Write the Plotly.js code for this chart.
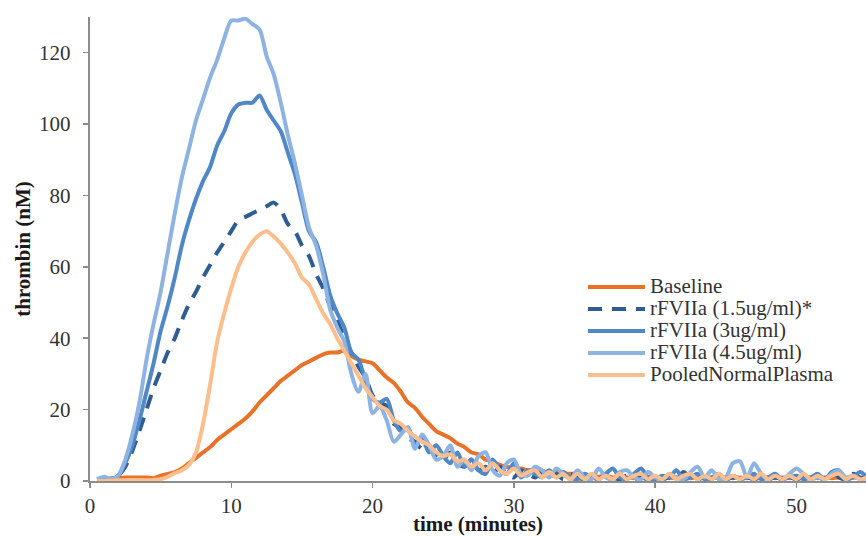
<!DOCTYPE html>
<html>
<head>
<meta charset="utf-8">
<script src="https://cdn.plot.ly/plotly-3.0.1.min.js"></script>
<style>
html,body{margin:0;padding:0;background:#fff;}
#chart{width:866px;height:536px;}
</style>
</head>
<body>
<div id="chart"></div>
<script>
var time = [0.5,1,1.5,2,2.5,3,3.5,4,4.5,5,
5.5,6,6.5,7,7.5,8,8.5,9,9.5,10,
10.5,11,11.5,12,12.5,13,13.5,14,14.5,15,
15.5,16,16.5,17,17.5,18,18.5,19,19.5,20,
20.5,21,21.5,22,22.5,23,23.5,24,24.5,25,
25.5,26,26.5,27,27.5,28,28.5,29,29.5,30,
30.5,31,31.5,32,32.5,33,33.5,34,34.5,35,
35.5,36,36.5,37,37.5,38,38.5,39,39.5,40,
40.5,41,41.5,42,42.5,43,43.5,44,44.5,45,
45.5,46,46.5,47,47.5,48,48.5,49,49.5,50,
50.5,51,51.5,52,52.5,53,53.5,54,54.5,55];

var seriesNames = ["Baseline","rFVIIa (1.5ug/ml)*","rFVIIa (3ug/ml)","rFVIIa (4.5ug/ml)","PooledNormalPlasma"];

var baseline = [0.3,0.5,0.8,0.8,1,1,1,1,0.8,1.5,
2,2.5,3.5,5,6.5,8,9.5,11.5,13,14.5,
16,17.5,19.5,22,24,26,28,29.5,31,32.5,
33.5,34.5,35.5,36,36,36.5,35,34,33.5,33,
31,29,27.5,25,22,20.5,18,16,14,13,
12,10.5,9.5,8,7.5,6,5.5,4.5,4,3.5,
3.5,3,3.2,2.8,2.5,2.5,2.2,2,2,1.5,
1.5,1.2,1.5,1,1.2,1,0.8,1,1.2,0.8,
1,0.8,1,1.2,0.8,1,0.8,1,0.8,1,
0.8,1,0.8,1,0.8,1,0.8,1,0.8,1,
0.8,1,0.8,1,0.8,1,0.8,1,0.8,1];

var rf15 = [0.3,0.3,0.5,1.5,4,8.5,14,20,26,31,
36,40,45,49.5,53,57,60.5,64,67,70,
73,74,75,76,77,78,76,72,70,66,
63,58,54,49,45,40,36,32,29,24,
22,21,16,15,12,11,9,10,7,6,
8,5,4,6,3,4,2,4,2,1,
3,2,1,2.5,1,2,0.5,2,1,0.5,
1.5,0.5,2,1,0.5,1.5,0.5,1,0.5,1.5,
0.5,1,0.5,2.5,1,0.5,1,0.5,1.5,0.5,
1,0.5,1,0.5,1,0.5,1,0.5,1,0.5,
1,0.5,1,0.5,3,1,0.5,2,1,0.5];

var rf3 = [0.3,0.5,0.5,1.5,5,10,17,25,33,42,
49,57,66,73,79,84,88,94,98,103,
105.5,106,106,108,104,101,98,92,86,78,
70,67,60,52,47,43,36,34,28,23,
22,23,17,14,15,10,12,8,10,7,
5,8,4,6,3,2,6,3,2,5,
1,3,2,1,3,1,2.5,1,0.5,2,
1,0.5,2,3.5,1,0.5,2,3.5,1,0.5,
1.5,1,3,0.5,1,2,0.5,1,2,0.5,
1.5,0.5,1,2,0.5,1,2,0.5,1,1.5,
0.5,1,2,0.5,2.5,3,0.5,1,2.5,1];

var rf45 = [0.5,1.2,0.5,1.5,6,13,22,34,44,53,
64,75,85,93,101,107,113,118,124,129,
129,129.5,128,126.5,119,114,106,97,89,80,
71,66,58,48,43,39,30,25,30,19,
21,17,11,13,15,9,13,10,6,7,
10,4,6,3,7,8,3,1.5,5,6,
2,1.5,4,3,1,3.5,2,0.5,3,1,
0.5,3.5,1,0.5,2.5,3,1,0.5,2.5,1,
0.5,2,1,0.5,2.5,4,1,3,0.5,1,
5,5.5,1,5,2,0.5,1.5,0.5,2,3.5,
2,0.5,1,0.5,2,3,1,1.5,0.5,1];

var pnp = [0,0,0.1,0.2,0.2,0.3,0.3,0.2,0.3,0.5,
1.2,2.2,3,4.5,8,16,27,39,47,54,
60,64,67,69,70,68.5,66.5,64,61,57,
55,51,47,44,40,36.5,33,29.5,26,23.5,
21,20,17,16,14,12.5,11,10,8,7,
7.5,5.5,6,4,5,3,5,3,2,3.5,
1.5,2.5,3,1,2.5,1,2,0.5,2,0.5,
2,0.5,1.5,0.5,2,0.5,1.5,2,0.5,1.5,
0.5,2,0.5,1.5,2,0.5,1.5,0.5,2,0.5,
1.5,0.5,1.5,0.5,2,0.5,1.5,0.5,1.5,0.5,
2,0.5,1.5,0.5,1.5,2,0.5,1.5,0.5,1];

var xTicks = [0,10,20,30,40,50];
var yTicks = [0,20,40,60,80,100,120];

var colors = ["#E8722A","#2F5D93","#4F87C7","#8DB3E2","#FBBE8C"];
var dashes = ["solid","14px,10px","solid","solid","solid"];
var values = [baseline, rf15, rf3, rf45, pnp];

var FONT = "'Liberation Serif','Times New Roman',serif";
var traces = values.map(function(v, i){
  return {
    type: 'scatter', mode: 'lines', x: time, y: v,
    name: '<span style="font-size:21px">' + seriesNames[i] + '</span>',
    line: {color: colors[i], width: 4, dash: dashes[i], shape: 'spline', smoothing: 0.8},
    cliponaxis: false,
    hoverinfo: 'skip'
  };
});

var axisCommon = {
  showgrid: false, zeroline: false, showline: true,
  linecolor: '#8c8c8c', linewidth: 2,
  ticks: 'outside', ticklen: 5, tickwidth: 1.5, tickcolor: '#8c8c8c',
  tickfont: {family: FONT, size: 21, color: '#333'}
};

var layout = {
  width: 866, height: 536,
  margin: {l: 90, r: 0, t: 17, b: 55, pad: 0},
  paper_bgcolor: '#fff', plot_bgcolor: '#fff',
  showlegend: true,
  legend: {
    x: 0.6353, y: 0.4526, xanchor: 'left', yanchor: 'top',
    bgcolor: 'rgba(0,0,0,0)', borderwidth: 0,
    font: {family: FONT, size: 14.6, color: '#333'},
    itemwidth: 57, traceorder: 'normal'
  },
  xaxis: Object.assign({}, axisCommon, {
    automargin: 'width',
    range: [0, 54.92], tickmode: 'array', tickvals: xTicks, ticktext: xTicks.map(String),
    title: {text: 'time (minutes)', standoff: 10,
      font: {family: FONT, size: 21, color: '#1a1a1a', weight: 'bold'}}
  }),
  yaxis: Object.assign({}, axisCommon, {
    automargin: 'top',
    ticklabelposition: 'outside',
    ticklabelstandoff: 3,
    range: [0, 130], tickmode: 'array', tickvals: yTicks,
    ticktext: yTicks.map(function(t){ return String(t) + '\u00a0'; }),
    title: {text: 'thrombin (nM)', standoff: 3,
      font: {family: FONT, size: 21, color: '#1a1a1a', weight: 'bold'}}
  })
};

Plotly.newPlot('chart', traces, layout, {displayModeBar: false, staticPlot: true});
</script>
</body>
</html>
